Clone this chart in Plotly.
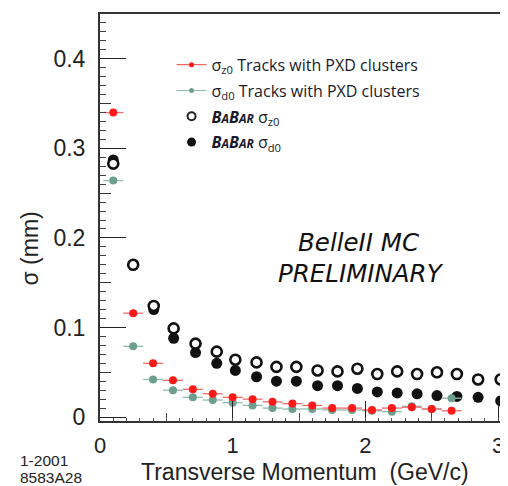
import plotly.graph_objects as go

# Belle II simulation (tracks with PXD clusters)
p_pxd = [0.1, 0.25, 0.4, 0.55, 0.7, 0.85, 1.0, 1.15, 1.3, 1.45, 1.6, 1.75, 1.9, 2.05, 2.2, 2.35, 2.5, 2.65]
p_pxd_err = 0.075
sz0_pxd = [0.340, 0.116, 0.060, 0.041, 0.031, 0.026, 0.022, 0.020, 0.017, 0.015, 0.013, 0.010, 0.010, 0.008, 0.010, 0.011, 0.009, 0.007]
sd0_pxd = [0.264, 0.079, 0.042, 0.030, 0.022, 0.019, 0.016, 0.013, 0.010, 0.009, 0.009, 0.008, 0.008, 0.007, 0.006, 0.012, 0.009, 0.021]

# BaBar
p_babar = [0.10, 0.25, 0.405, 0.555, 0.72, 0.88, 1.02, 1.18, 1.33, 1.48, 1.64, 1.79, 1.94, 2.09, 2.24, 2.39, 2.54, 2.69, 2.85, 3.02]
sz0_babar = [0.283, 0.170, 0.124, 0.099, 0.082, 0.073, 0.064, 0.061, 0.056, 0.056, 0.052, 0.051, 0.054, 0.048, 0.051, 0.048, 0.050, 0.048, 0.042, 0.042]
sd0_babar = [0.287, None, 0.120, 0.088, 0.072, 0.060, 0.052, 0.045, 0.040, 0.040, 0.035, 0.035, 0.032, 0.028, 0.027, 0.026, 0.024, 0.023, 0.022, 0.018]

X_RANGE = [0, 3.03]
Y_RANGE = [-0.0044, 0.45]

RED = "#ff1a1a"
RED_ERR = "#f06a6a"
GREEN = "#6e9e8e"
GREEN_ERR = "#8fbcab"

fig = go.Figure()

fig.add_trace(go.Scatter(
    x=p_babar, y=sd0_babar, mode="markers", showlegend=False, cliponaxis=False,
    marker=dict(symbol="circle", size=11, color="#111111", line=dict(width=0))))
fig.add_trace(go.Scatter(
    x=p_babar, y=sz0_babar, mode="markers", showlegend=False, cliponaxis=False,
    marker=dict(symbol="circle", size=10, color="white", line=dict(width=2.6, color="#111111"))))
fig.add_trace(go.Scatter(
    x=p_pxd, y=sd0_pxd, mode="markers", showlegend=False, cliponaxis=False,
    error_x=dict(type="constant", value=p_pxd_err, color=GREEN_ERR, thickness=1.3, width=0),
    marker=dict(symbol="circle", size=8, color=GREEN)))
fig.add_trace(go.Scatter(
    x=p_pxd, y=sz0_pxd, mode="markers", showlegend=False, cliponaxis=False,
    error_x=dict(type="constant", value=p_pxd_err, color=RED_ERR, thickness=1.3, width=0),
    marker=dict(symbol="circle", size=8, color=RED)))

# empty trace that carries the secondary (tick-only) axes
fig.add_trace(go.Scatter(x=[None], y=[None], xaxis="x2", yaxis="y2", showlegend=False, hoverinfo="skip"))

# legend entries
fig.add_trace(go.Scatter(x=[None], y=[None], mode="lines+markers", legendgroup="a",
    name="σ<sub>z0</sub> Tracks with PXD clusters",
    line=dict(color=RED_ERR, width=1.2), marker=dict(size=5, color=RED)))
fig.add_trace(go.Scatter(x=[None], y=[None], mode="lines+markers", legendgroup="b",
    name="σ<sub>d0</sub> Tracks with PXD clusters",
    line=dict(color=GREEN_ERR, width=1.2), marker=dict(size=5, color=GREEN)))
fig.add_trace(go.Scatter(x=[None], y=[None], mode="markers", legendgroup="c",
    name="<b><i>B<span style='font-size:12px'>A</span>B<span style='font-size:12px'>AR</span></i></b> σ<sub>z0</sub>",
    marker=dict(size=8, color="white", line=dict(width=2, color="#222222"))))
fig.add_trace(go.Scatter(x=[None], y=[None], mode="markers", legendgroup="d",
    name="<b><i>B<span style='font-size:12px'>A</span>B<span style='font-size:12px'>AR</span></i></b> σ<sub>d0</sub>",
    marker=dict(size=9, color="#111111")))

# page has an 8px body margin: figure sized 500x478 so it fills the 508x486 window
fig.update_layout(
    width=500, height=478,
    margin=dict(l=92, r=4, t=4, b=65),
    paper_bgcolor="white", plot_bgcolor="white",
    font=dict(family="Liberation Sans, Arial, sans-serif", color="#222222"),
    legend=dict(x=0.178, y=0.917, xanchor="left", yanchor="top",
                bgcolor="rgba(0,0,0,0)", font=dict(family="Open Sans, sans-serif", size=16, color="#1a1a2a"),
                traceorder="grouped", tracegroupgap=2, itemwidth=30),
    xaxis=dict(range=X_RANGE, showgrid=False, zeroline=False,
               showline=True, linecolor="#333333", linewidth=2, mirror=True,
               ticks="inside", ticklen=20, tickwidth=1.2, tickcolor="#222222",
               dtick=1, tick0=0, ticklabelstandoff=4,
               tickfont=dict(size=22, color="#222222"),
               minor=dict(ticks="inside", dtick=0.5, ticklen=8, tickcolor="#444444", tickwidth=1)),
    yaxis=dict(range=Y_RANGE, showgrid=False, zeroline=False,
               showline=True, linecolor="#333333", linewidth=2,
               ticks="inside", ticklen=26, tickwidth=1.2, tickcolor="#222222",
               dtick=0.1, tick0=0, tickformat=".1~f", ticklabelstandoff=8,
               tickfont=dict(size=23, color="#222222"),
               minor=dict(ticks="inside", dtick=0.01, ticklen=6, tickcolor="#444444", tickwidth=1)),
    xaxis2=dict(range=X_RANGE, overlaying="x", anchor="y", side="bottom", showgrid=False, zeroline=False,
                showline=False, showticklabels=False, ticks="inside", ticklen=3, tickwidth=1,
                tickcolor="#555555", dtick=0.1, tick0=0),
    yaxis2=dict(range=Y_RANGE, overlaying="y", anchor="x", side="left", showgrid=False, zeroline=False,
                showline=False, showticklabels=False, ticks="inside", ticklen=11, tickwidth=1,
                tickcolor="#333333", dtick=0.1, tick0=0.05),
)

annos = [
    dict(text="σ (mm)", x=-0.173, y=0.425, textangle=-90, font=dict(size=23)),
    dict(text="Transverse Momentum  (GeV/c)", x=0.51, y=-0.126, font=dict(size=23)),
    dict(text="1-2001", x=-0.203, y=-0.097, xanchor="left", font=dict(size=15.5)),
    dict(text="8583A28", x=-0.203, y=-0.139, xanchor="left", font=dict(size=15.5)),
    dict(text="<i>BelleII MC</i>", x=0.645, y=0.438, font=dict(family="DejaVu Sans", size=24.5, color="#111111")),
    dict(text="<i>PRELIMINARY</i>", x=0.649, y=0.362, font=dict(family="DejaVu Sans", size=24.5, color="#111111")),
]
for a in annos:
    base = dict(xref="paper", yref="paper", showarrow=False, xanchor="center", yanchor="middle")
    base.update(a)
    fig.add_annotation(**base)

fig.write_html("out.html")
